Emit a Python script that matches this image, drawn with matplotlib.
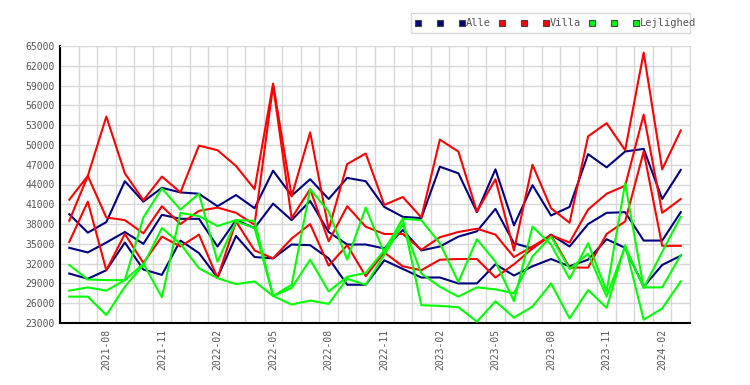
import numpy as np
import matplotlib
matplotlib.use("Agg")
import matplotlib.pyplot as plt
from matplotlib.patches import Rectangle
from matplotlib.lines import Line2D

# Mois (2021-06 .. 2024-03)
maaneder = [f"{2021 + (5 + k) // 12}-{(5 + k) % 12 + 1:02d}" for k in range(34)]

# Alle (3 serier)
alle_1 = [39.5, 36.7, 38.3, 44.5, 41.4, 43.5, 42.8, 42.6, 40.7, 42.4, 40.4, 46.1, 42.3, 44.8, 41.8, 45.0, 44.5,
          40.6, 39.1, 38.9, 46.7, 45.7, 39.8, 46.3, 37.8, 43.9, 39.3, 40.6, 48.6, 46.6, 49.0, 49.4, 41.8, 46.2]
alle_2 = [34.4, 33.7, 35.2, 36.8, 35.0, 39.4, 38.8, 38.8, 34.6, 38.6, 37.4, 41.1, 38.6, 41.5, 36.8, 34.9, 34.9,
          34.3, 37.1, 34.0, 34.6, 36.1, 36.9, 40.3, 35.1, 34.3, 36.4, 34.6, 38.0, 39.7, 39.8, 35.5, 35.5, 39.8]
alle_3 = [30.5, 29.7, 31.0, 35.2, 31.1, 30.3, 35.5, 33.6, 29.9, 36.2, 33.0, 32.8, 34.9, 34.8, 32.8, 28.8, 28.8,
          32.5, 31.2, 29.9, 29.9, 29.0, 29.0, 31.9, 30.2, 31.6, 32.7, 31.6, 32.6, 35.7, 34.4, 28.5, 31.8, 33.2]

# Villa
villa_1 = [41.7, 45.3, 54.3, 45.7, 41.6, 45.2, 42.8, 49.9, 49.2, 46.8, 43.3, 59.3, 42.2, 51.9, 37.2, 47.1, 48.7,
           40.9, 42.1, 39.0, 50.8, 49.0, 39.9, 44.8, 34.0, 47.0, 40.4, 38.2, 51.3, 53.3, 49.2, 64.0, 46.3, 52.2]
villa_2 = [38.5, 45.3, 39.0, 38.6, 36.6, 40.7, 38.0, 40.0, 40.5, 39.7, 37.9, 59.0, 38.9, 43.3, 35.4, 40.7, 37.6,
           36.5, 36.5, 34.1, 36.0, 36.8, 37.3, 36.4, 33.0, 34.6, 36.3, 35.2, 40.2, 42.6, 43.8, 54.6, 39.7, 41.8]
villa_3 = [35.3, 41.4, 31.0, 36.5, 32.1, 36.1, 34.6, 36.4, 29.8, 38.4, 34.0, 32.8, 35.8, 38.0, 31.7, 34.8, 30.1,
           33.7, 31.6, 31.0, 32.6, 32.7, 32.7, 29.9, 31.9, 34.3, 36.3, 31.4, 31.4, 36.5, 38.4, 49.0, 34.7, 34.7]

# Lejlighed
lejl_1 = [31.8, 29.6, 29.5, 29.5, 39.0, 43.4, 40.2, 42.6, 32.3, 38.4, 37.4, 27.1, 28.8, 43.3, 39.9, 32.6, 40.5,
          33.6, 38.8, 38.6, 35.1, 29.2, 35.7, 32.3, 26.3, 37.6, 34.9, 29.7, 35.1, 27.8, 44.2, 28.3, 33.8, 39.1]
lejl_2 = [27.9, 28.4, 27.9, 29.5, 32.0, 26.9, 39.7, 39.2, 37.7, 38.6, 38.5, 27.1, 28.3, 32.6, 27.8, 30.0, 30.6,
          34.0, 38.8, 25.7, 25.6, 25.4, 23.2, 26.3, 23.8, 25.5, 29.0, 23.7, 28.0, 25.3, 34.8, 23.5, 25.2, 29.3]
lejl_3 = [27.0, 27.0, 24.2, 28.5, 31.8, 37.4, 35.0, 31.3, 29.8, 28.9, 29.3, 27.1, 25.8, 26.4, 25.9, 29.7, 28.8,
          33.3, 38.0, 30.5, 28.5, 27.0, 28.4, 28.1, 27.5, 33.1, 36.1, 31.2, 33.5, 27.0, 34.6, 28.4, 28.4, 33.3]

grupper = ["Alle", "Villa", "Lejlighed"]
farver = {"Alle": "#000080", "Villa": "#ff0000", "Lejlighed": "#00ff00"}
serier = {"Alle": [alle_1, alle_2, alle_3],
          "Villa": [villa_1, villa_2, villa_3],
          "Lejlighed": [lejl_1, lejl_2, lejl_3]}

FONT = "DejaVu Sans Mono"
GRAA = "#555555"

fig = plt.figure(figsize=(7.5, 3.85), dpi=100)
ax = fig.add_axes([60 / 750, 62 / 385, 630 / 750, 277 / 385])

x = np.arange(len(maaneder))
for g in grupper:
    for s in serier[g]:
        ax.plot(x, np.array(s) * 1000, color=farver[g], lw=1.5, zorder=3)

ax.set_xlim(-0.5, len(maaneder) - 0.5)
ax.set_ylim(23000, 65000)
ax.set_yticks(np.arange(23000, 65001, 3000))
ax.set_xticks(x[2::3])
ax.set_xticklabels([maaneder[i] for i in x[2::3]], rotation=90)
ax.set_xticks(np.arange(-0.5, len(maaneder)), minor=True)
ax.grid(True, which="minor", axis="x", color="#d8d8d8", lw=1)
ax.grid(True, which="major", axis="y", color="#d8d8d8", lw=1)
ax.set_axisbelow(True)
ax.tick_params(which="both", length=0, labelsize=7, labelcolor=GRAA, pad=4)
for lab in ax.get_xticklabels() + ax.get_yticklabels():
    lab.set_fontfamily(FONT)
for side in ["top", "right"]:
    ax.spines[side].set_color("#d8d8d8")
for side in ["left", "bottom"]:
    ax.spines[side].set_color("black")
    ax.spines[side].set_linewidth(1.5)

# legende tegnet i figurkoordinater
fig.add_artist(Rectangle((411 / 750, 1 - 33 / 385), 279 / 750, 20 / 385, transform=fig.transFigure,
                         facecolor="white", edgecolor="#d8d8d8", lw=1))
x0 = 418
for g, tx in zip(grupper, [418, 502, 592]):
    for k in range(3):
        px = tx + 22 * k
        fig.add_artist(Line2D([px / 750], [1 - 23 / 385], transform=fig.transFigure, marker="s",
                              markersize=5, markerfacecolor=farver[g], markeredgecolor="#444444",
                              markeredgewidth=0.8, linestyle=""))
    fig.text((tx + 48) / 750, 1 - 23 / 385, g, fontsize=7.5, family=FONT, color=GRAA, va="center")

fig.savefig("out.png", dpi=100)
